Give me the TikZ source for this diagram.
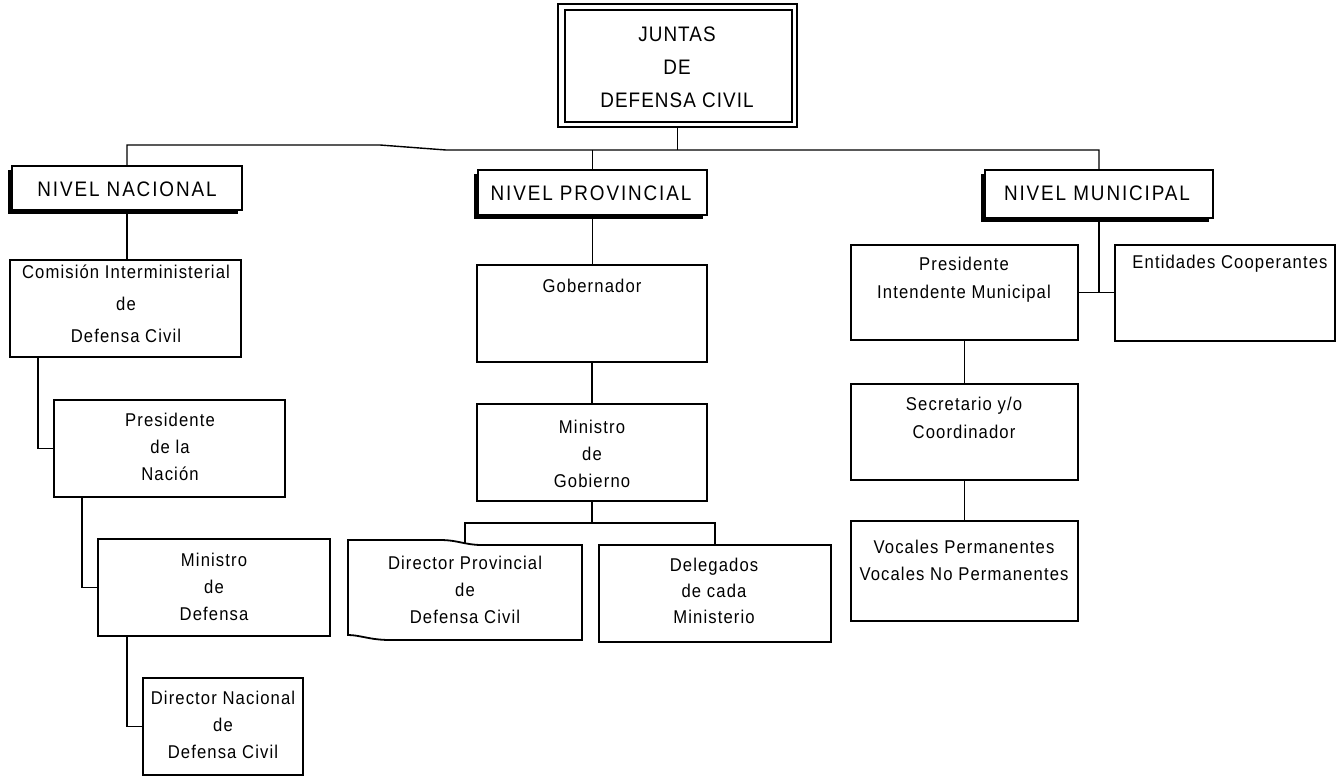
\documentclass[tikz,border=0pt]{standalone}
\usepackage{fontspec}
\setmainfont{Liberation Sans}
\newfontfamily\bodyf{Liberation Sans}[LetterSpace=6,FakeStretch=0.9]
\newfontfamily\lvlf{Liberation Sans}[LetterSpace=9,FakeStretch=0.9]
\newfontfamily\titf{Liberation Sans}[LetterSpace=5,FakeStretch=0.9]
\usetikzlibrary{fit,shadows}
\newcommand\lsx{\rule[-0.342em]{0pt}{1.4em}}
\begin{document}
\begin{tikzpicture}[x=1pt,y=-1pt,
  box/.style={draw, line width=1.8pt, fill=white, inner sep=0pt, outer sep=0pt},
  lvlbox/.style={box, drop shadow={shadow xshift=-4pt,shadow yshift=-4pt,opacity=1,fill=black}},
  conn/.style={line width=1.4pt},
  bt/.style={inner sep=0pt, outer sep=0pt, align=center, font={\bodyf\fontsize{18.5}{#1}\selectfont}},
  lt/.style={inner sep=0pt, outer sep=0pt, font={\lvlf\fontsize{21}{24}\selectfont}},
  tt/.style={inner sep=0pt, outer sep=0pt, align=center, font={\titf\fontsize{21}{33}\selectfont}}]
\useasboundingbox (0,0) rectangle (1337,777);

% top box (double border)
\node[box, line width=2.2pt, fit={(558,4) (797,127)}] (top) {};
\node[draw, line width=1.6pt, inner sep=0pt, outer sep=0pt, fit={(565,10) (792,122)}] (topin) {};

% level boxes
\node[lvlbox, fit={(12,166) (242,210)}] (nac) {};
\node[lvlbox, fit={(478,170) (707,215)}] (prov) {};
\node[lvlbox, fit={(985,170) (1213,218)}] (mun) {};

% national column
\node[box, fit={(10,260) (241,357)}] (com) {};
\node[box, fit={(54,400) (285,497)}] (pres) {};
\node[box, fit={(98,539) (330,636)}] (min) {};
\node[box, fit={(143,678) (303,775)}] (dn) {};

% provincial column
\node[box, fit={(477,265) (707,362)}] (gob) {};
\node[box, fit={(477,404) (707,501)}] (mg) {};
\node[inner sep=0pt, outer sep=0pt, fit={(348,540) (582,640)}] (dp) {};
\draw[box] (dp.north west) -- (440,540) .. controls (458,540) and (465,545) .. (482,545)
  -- (582,545) -- (dp.south east) -- (390,640) .. controls (370,640) and (360,635) .. (348,635) -- cycle;
\node[box, fit={(599,545) (831,642)}] (dl) {};

% municipal column
\node[box, fit={(851,245) (1078,340)}] (pi) {};
\node[box, fit={(1115,245) (1335,341)}] (ec) {};
\node[box, fit={(851,384) (1078,480)}] (sec) {};
\node[box, fit={(851,521) (1078,621)}] (voc) {};

% connectors
\coordinate (k1) at (380,145);
\coordinate (k2) at (446,150);
\draw[conn] (nac.north) |- (k1) -- (k2) -| (mun.north);
\draw[conn] (top.south) -- (top.south |- k2);
\draw[conn] (prov.north |- k2) -- (prov.north);

\draw[conn] (nac.south) -- (nac.south |- com.north);
\draw[conn] ([xshift=28pt]com.south west) |- (pres.west);
\draw[conn] ([xshift=28pt]pres.south west) |- (min.west);
\draw[conn] ([xshift=29pt]min.south west) |- (dn.west);

\draw[conn] (prov.south) -- (prov.south |- gob.north);
\draw[conn] (gob.south) -- (mg.north);
\coordinate (pb) at (592,523);
\draw[conn] (mg.south) -- (mg.south |- pb);
\draw[conn] ([yshift=-3pt]dp.north) |- (pb) -| (dl.north);

\draw[conn] (mun.south) -- (mun.south |- pi.east);
\draw[conn] (pi.east) -- (pi.east -| ec.west);
\draw[conn] (pi.south) -- (sec.north);
\draw[conn] (sec.south) -- (voc.north);

% texts
\node[tt] (ttop) at (677,67) {\lsx JUNTAS\\\lsx DE\\\lsx DEFENSA CIVIL};
\node[lt] (tnac) at (127,189) {\lsx NIVEL NACIONAL};
\node[lt] (tprov) at (591,193) {\lsx NIVEL PROVINCIAL};
\node[lt] (tmun) at (1097,193) {\lsx NIVEL MUNICIPAL};

\node[bt=32] (tcom) at (126,304) {\lsx Comisión Interministerial\\\lsx de\\\lsx Defensa Civil};
\node[bt=27] (tpres) at (170,447) {\lsx Presidente\\\lsx de la\\\lsx Nación};
\node[bt=27] (tmin) at (214,586.5) {\lsx Ministro\\\lsx de\\\lsx Defensa};
\node[bt=25] (tdn) at (223,724.5) {\lsx Director Nacional\\\lsx de\\\lsx Defensa Civil};

\node[bt=27] (tgob) at (592,286) {\lsx Gobernador};
\node[bt=27] (tmg) at (592,454) {\lsx Ministro\\\lsx de\\\lsx Gobierno};
\node[bt=25] (tdp) at (465,589.5) {\lsx Director Provincial\\\lsx de\\\lsx Defensa Civil};
\node[bt=26] (tdl) at (714,591) {\lsx Delegados\\\lsx de cada\\\lsx Ministerio};

\node[bt=28] (tpi) at (964,278) {\lsx Presidente\\\lsx Intendente Municipal};
\node[bt=28] (tec) at (1230,262) {\lsx Entidades Cooperantes};
\node[bt=28] (tsec) at (964,418) {\lsx Secretario y/o\\\lsx Coordinador};
\node[bt=25] (tvoc) at (964,560.5) {\lsx Vocales Permanentes\\\lsx Vocales No Permanentes};
\end{tikzpicture}
\end{document}
